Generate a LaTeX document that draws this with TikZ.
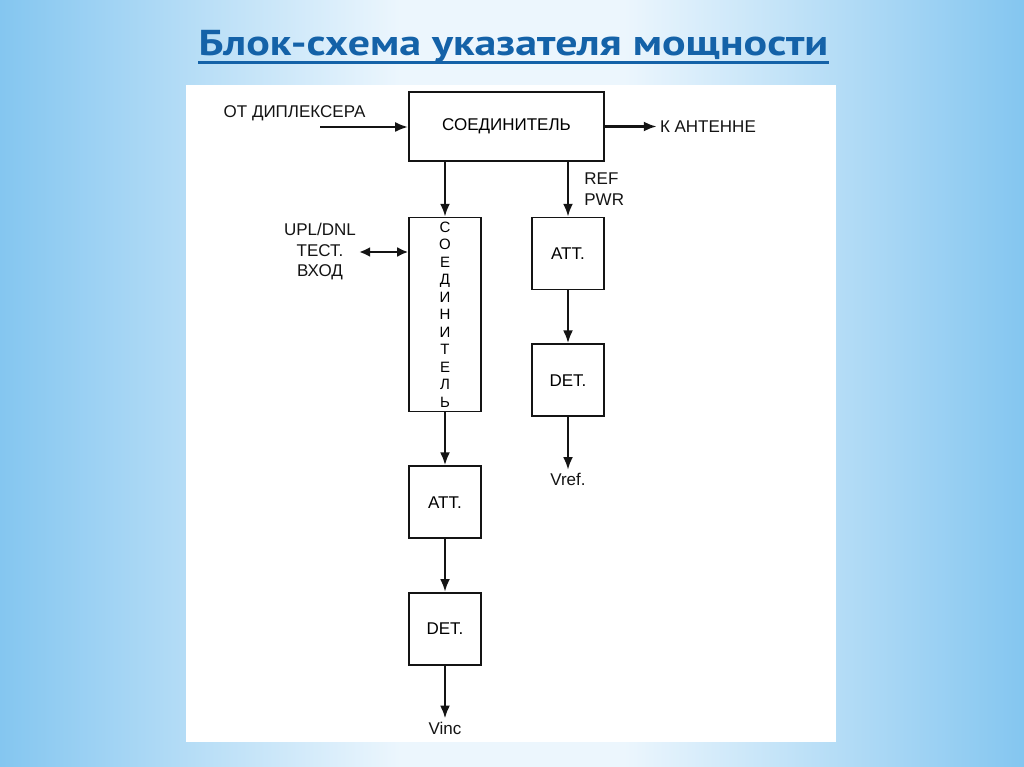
\documentclass[tikz,border=0pt]{standalone}
\usepackage{fontspec}
\setmainfont{Liberation Sans}
\newfontfamily\titlefont{PT Sans}[FakeStretch=1.22]
\usetikzlibrary{arrows.meta,positioning}
\definecolor{slideblue}{RGB}{132,198,240}
\definecolor{slidemid}{RGB}{196,228,249}
\definecolor{slidepale}{RGB}{236,246,253}
\definecolor{titleblue}{RGB}{20,98,168}
\definecolor{boxline}{RGB}{20,20,20}

\begin{document}
\begin{tikzpicture}[x=1pt,y=-1pt,
  node distance=53pt,
  blk/.style={draw=boxline,line width=1.6pt,minimum width=72pt,minimum height=72pt,
              inner sep=0pt,font=\fontsize{17}{20}\selectfont},
  lbl/.style={font=\fontsize{17}{20.5}\selectfont,text=boxline,inner sep=3pt},
  arrow/.style={-{Latex[length=13pt,width=10pt]},line width=2.8pt,draw=boxline},
  dblarrow/.style={arrow,{Latex[length=11pt,width=10pt]}-{Latex[length=11pt,width=10pt]}}
]
\useasboundingbox (0,0) rectangle (1024,767);
% slide background
\shade[left color=slideblue,middle color=slidemid,right color=slidepale] (0,0) rectangle (400,767);
\fill[slidepale] (400,0) rectangle (624,767);
\shade[left color=slidepale,middle color=slidemid,right color=slideblue] (624,0) rectangle (1024,767);
\fill[white] (186,85) rectangle (836,742);

\node[font=\titlefont\bfseries\fontsize{36}{40}\selectfont,text=titleblue,inner sep=0pt,anchor=base]
  (title) at (513.5,56) {Блок-схема указателя мощности};
\draw[titleblue,line width=3pt] ([yshift=-7pt]title.base west) -- ([yshift=-7pt]title.base east);

% main chain
\node[blk,minimum width=195pt,minimum height=69pt] (coup) at (506.5,126.5) {СОЕДИНИТЕЛЬ};
\node[blk,minimum height=194pt,below=55pt of coup.south west,anchor=north west,
      font=\fontsize{15}{17.5}\selectfont,align=center] (vcoup) {С\\О\\Е\\Д\\И\\Н\\И\\Т\\Е\\Л\\Ь};
\node[blk,below=of vcoup] (attL) {ATT.};
\node[blk,below=of attL] (detL) {DET.};
\node[lbl,below=of detL] (vinc) {Vinc};
% reflected branch
\node[blk,below=55pt of coup.south east,anchor=north east] (attR) {ATT.};
\node[blk,below=of attR] (detR) {DET.};
\node[lbl,below=of detR] (vref) {Vref.};
% outside labels
\node[lbl] (dipl) at (294.5,113) {ОТ ДИПЛЕКСЕРА};
\coordinate (feed) at (320,127);
\node[lbl,right=52pt of coup] (ant) {К АНТЕННЕ};
\node[lbl,align=center] (test) at (320,252) {UPL/DNL\\ТЕСТ.\\ВХОД};

\draw[arrow] (feed) -- (feed -| coup.west);
\draw[arrow] (coup) -- (ant);
\draw[arrow] (vcoup.north |- coup.south) -- (vcoup);
\draw[arrow] (attR.north |- coup.south) -- node[lbl,right=12pt,align=left]{REF\\PWR} (attR);
\draw[dblarrow] (test.east) -- (test.east -| vcoup.west);
\draw[arrow] (vcoup) -- (attL);
\draw[arrow] (attL) -- (detL);
\draw[arrow] (detL) -- (vinc);
\draw[arrow] (attR) -- (detR);
\draw[arrow] (detR) -- (vref);
\end{tikzpicture}
\end{document}
